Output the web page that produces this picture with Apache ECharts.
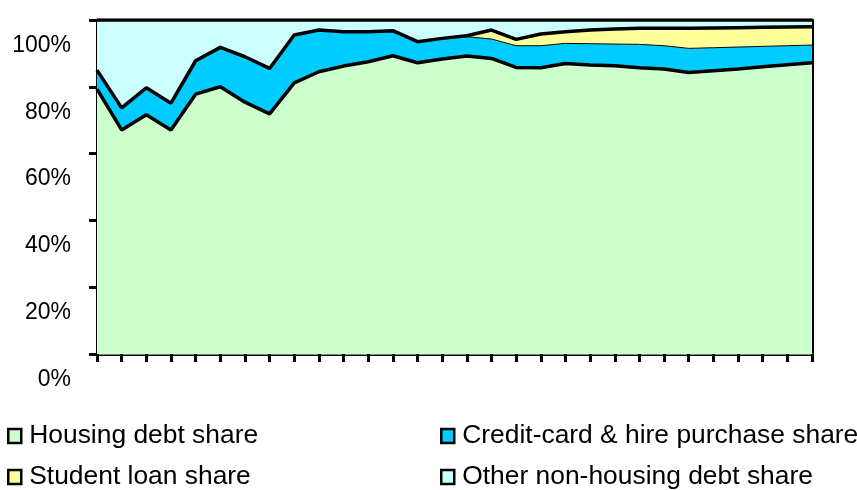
<!DOCTYPE html>
<html>
<head>
<meta charset="utf-8">
<style>
  html, body { margin: 0; padding: 0; background: #fff; }
  #chart { width: 857px; height: 490px; }
</style>
<script src="https://cdn.jsdelivr.net/npm/echarts@6/dist/echarts.min.js"></script>
</head>
<body>
<div id="chart"></div>
<script>
// periods on the x axis (no labels are printed in the source)
const periods = ['1', '2', '3', '4', '5', '6', '7', '8', '9', '10',
  '11', '12', '13', '14', '15', '16', '17', '18', '19', '20',
  '21', '22', '23', '24', '25', '26', '27', '28', '29', '30']

// shares of total debt, %
const housingShare = [79.3, 67.1, 71.6, 67.1, 77.8, 80.0, 75.4, 71.9, 81.2, 84.5,
  86.2, 87.5, 89.3, 87.2, 88.3, 89.2, 88.5, 85.8, 85.7, 87.0,
  86.5, 86.3, 85.7, 85.3, 84.3, 84.8, 85.3, 86.0, 86.6, 87.2]
const creditCardShare = [5.7, 6.6, 8.1, 8.0, 10.0, 11.8, 13.6, 13.6, 14.3, 12.5,
  10.3, 9.0, 7.5, 6.3, 6.2, 5.8, 5.8, 6.5, 6.6, 6.0,
  6.4, 6.5, 7.0, 7.0, 7.2, 6.9, 6.6, 6.1, 5.7, 5.3]
const studentLoanShare = [0, 0, 0, 0, 0, 0, 0, 0, 0, 0,
  0, 0, 0, 0, 0, 0.3, 2.7, 1.9, 3.5, 3.5,
  4.1, 4.5, 4.8, 5.2, 6.0, 5.9, 5.8, 5.7, 5.6, 5.5]
const otherShare = [15.0, 26.3, 20.3, 24.9, 12.2, 8.2, 11.0, 14.5, 4.5, 3.0,
  3.5, 3.5, 3.2, 6.5, 5.5, 4.7, 3.0, 5.8, 4.2, 3.5,
  3.0, 2.7, 2.5, 2.5, 2.5, 2.4, 2.3, 2.2, 2.1, 2.0]

const FONT = "'Liberation Sans', Arial, sans-serif"

function areaSeries(name, data, fill, lineWidth) {
  return {
    name,
    type: 'line',
    stack: 'share',
    data,
    symbol: 'none',
    smooth: false,
    itemStyle: { color: fill },
    lineStyle: { color: '#000', width: lineWidth },
    areaStyle: { color: fill, opacity: 1 },
    emphasis: { disabled: true },
    animation: false
  }
}

function legendColumn(left, names) {
  return {
    left,
    top: 423,
    orient: 'vertical',
    padding: 0,
    itemGap: 15,
    itemWidth: 13,
    itemHeight: 14,
    icon: 'rect',
    selectedMode: false,
    itemStyle: { borderColor: '#000', borderWidth: 2.5 },
    textStyle: { fontSize: 26.4, fontFamily: FONT, color: '#000', padding: [0, 0, 0, 3] },
    data: names
  }
}

const chart = echarts.init(document.getElementById('chart'))

chart.setOption({
  backgroundColor: '#fff',
  textStyle: { fontFamily: FONT },
  grid: { left: 97, right: 45, top: 20, bottom: 136 },
  xAxis: [
    {
      type: 'category',
      boundaryGap: false,
      data: periods,
      axisLine: { show: true, lineStyle: { color: '#000', width: 3 } },
      axisTick: { show: true, interval: 0, length: 8, lineStyle: { color: '#000', width: 3 } },
      axisLabel: { show: false },
      splitLine: { show: false }
    },
    {
      // grey edge over the top of the plot
      type: 'category',
      position: 'top',
      offset: 2,
      boundaryGap: false,
      data: periods,
      axisLine: { show: true, lineStyle: { color: '#7f7f7f', width: 2 } },
      axisTick: { show: false },
      axisLabel: { show: false }
    }
  ],
  yAxis: [
    {
      type: 'value',
      min: 0,
      max: 100,
      interval: 20,
      axisLine: { show: true, lineStyle: { color: '#000', width: 3 } },
      axisTick: { show: true, length: 8, lineStyle: { color: '#000', width: 3 } },
      splitLine: { show: false },
      axisLabel: {
        formatter: '{value}%',
        fontSize: 23,
        fontFamily: FONT,
        color: '#000',
        margin: 26,
        verticalAlign: 'top',
        padding: [14, 0, 0, 0]
      }
    },
    {
      // right hand edge of the area block
      type: 'value',
      position: 'right',
      min: 0,
      max: 100,
      interval: 20,
      axisLine: { show: true, lineStyle: { color: '#000', width: 3 } },
      axisTick: { show: false },
      axisLabel: { show: false },
      splitLine: { show: false }
    }
  ],
  legend: [
    legendColumn(7, ['Housing debt share', 'Student loan share']),
    legendColumn(440, ['Credit-card & hire purchase share', 'Other non-housing debt share'])
  ],
  series: [
    areaSeries('Housing debt share', housingShare, '#ccffcc', 3.5),
    areaSeries('Credit-card & hire purchase share', creditCardShare, '#00ccff', 1),
    areaSeries('Student loan share', studentLoanShare, '#ffff99', 3.5),
    areaSeries('Other non-housing debt share', otherShare, '#ccffff', 3.5)
  ]
})
</script>
</body>
</html>
